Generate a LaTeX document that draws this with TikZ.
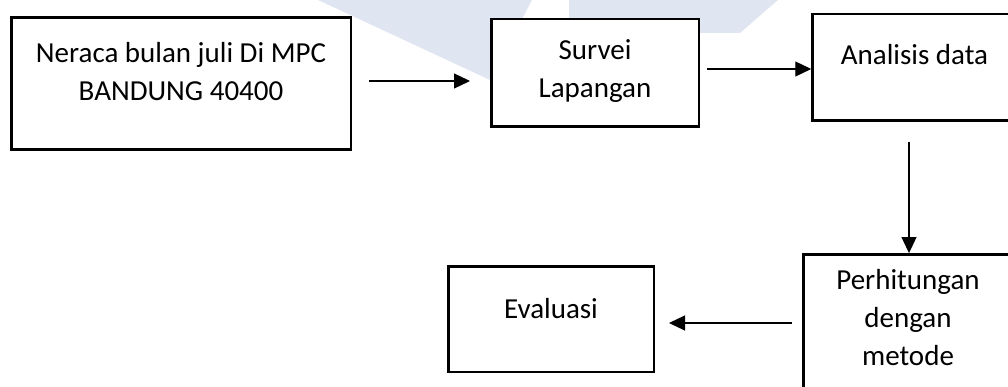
\documentclass[tikz,border=0pt]{standalone}
\usepackage{fontspec}
\setmainfont{Carlito}
\usetikzlibrary{arrows.meta}

\definecolor{watermark}{RGB}{224,229,242}

\tikzset{
  box/.style={draw, line width=2.5pt, fill=white, inner sep=0pt},
  txt/.style={align=center, inner sep=0pt, font=\fontsize{29}{38}\selectfont},
  arr/.style={-{Triangle[length=16pt,width=15pt]}, line width=1.2pt}
}

\begin{document}
\begin{tikzpicture}[x=1pt,y=-1pt]
\useasboundingbox (0,0) rectangle (1008,387);
\clip (0,0) rectangle (1008,387);
% faint logo behind the chart
\fill[watermark] (318,0) -- (532,0) -- (490,80) -- cycle;
\fill[watermark] (569,0) -- (778,0) -- (740,33) -- (569,33) -- cycle;
% boxes
\node[box, minimum width=339.5pt, minimum height=132.4pt] (neraca) at (181,83.5) {};
\node[box, minimum width=207.5pt, minimum height=107.5pt] (survei) at (595,73) {};
\node[box, minimum width=204pt, minimum height=106.5pt] (analisis) at (914.5,67.5) {};
\node[box, minimum width=210pt, minimum height=150pt] (hitung) at (908.3,329.3) {};
\node[box, minimum width=205.5pt, minimum height=105.5pt] (evaluasi) at (551,319) {};
% texts
\node[txt] (neraca-t) at (181,72) {Neraca bulan juli Di MPC\\BANDUNG 40400};
\node[txt] (survei-t) at (595,71) {Survei\\Lapangan};
\node[txt] (analisis-t) at (914.5,55) {Analisis data};
\node[txt] (hitung-t) at (908,318) {Perhitungan\\dengan\\metode};
\node[txt] (evaluasi-t) at (551,309) {Evaluasi};
% arrows
\draw[arr, shorten <=17pt, shorten >=20pt] ([yshift=2.5pt]neraca.east) -- ([yshift=2.5pt]neraca.east -| survei.west);
\draw[arr, shorten <=7pt] ([yshift=4pt]survei.east) -- ([yshift=4pt]survei.east -| analisis.west);
\draw[arr, shorten <=20pt] ([xshift=-5.5pt]analisis.south) -- ([xshift=-5.5pt]analisis.south |- hitung.north);
\coordinate (a4) at ([yshift=-4pt]evaluasi.east);
\draw[arr, shorten <=10pt, shorten >=14pt] (a4 -| hitung.west) -- (a4);
\end{tikzpicture}
\end{document}
